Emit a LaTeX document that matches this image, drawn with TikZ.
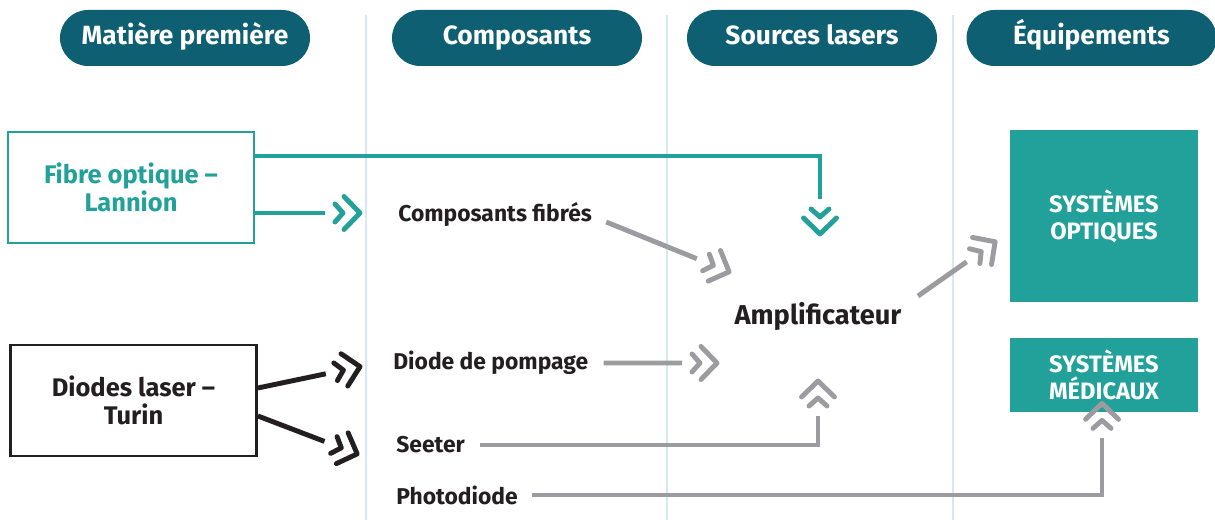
\documentclass[tikz,border=0pt]{standalone}
\usepackage{fontspec}
\setmainfont{Fira Sans}
\usepackage{tikz}
\usetikzlibrary{decorations.markings}
\definecolor{mdark}{RGB}{14,95,114}
\definecolor{mteal}{RGB}{34,161,154}
\definecolor{mgrey}{RGB}{155,155,160}
\definecolor{mblack}{RGB}{35,31,32}
\definecolor{mline}{RGB}{213,233,239}
\tikzset{chev/.style = {shorten >=0.76cm,
                        decoration={markings,
                                    mark=at position 1 with {
                                      \draw [shorten >=0pt, line cap=round, line join=round]
                                        (-0.38, 0.33) -- (-0.06, 0) -- (-0.38, -0.33);
                                      \draw [shorten >=0pt, line cap=round, line join=round]
                                        (-0.56, 0.18) -- (-0.4, 0) -- (-0.56, -0.18);}},
                        postaction={decorate}}}
\tikzset{pill/.style = {fill=mdark, text=white, rounded corners=0.56cm,
                        minimum width=5cm, minimum height=1.12cm,
                        text height=11pt, text depth=3.5pt,
                        font=\bfseries\fontsize{15}{17}\selectfont}}
\tikzset{vline/.style = {mline, line width=0.6pt}}
\tikzset{lbl/.style = {text=mblack, inner sep=0,
                       font=\bfseries\fontsize{13}{15}\selectfont}}
\tikzset{srcbox/.style = {draw, line width=1.6pt, minimum width=4.92cm,
                          minimum height=2.22cm, align=center,
                          font=\bfseries\fontsize{14.5}{16}\selectfont}}
\tikzset{eqbox/.style = {fill=mteal, text=white, minimum width=3.76cm,
                         align=center, font=\bfseries\fontsize{13.5}{15.3}\selectfont}}
\tikzset{link/.style = {line width=2.8pt, chev}}

\begin{document}
\begin{tikzpicture}
      \useasboundingbox (0, 0) rectangle (24.3, 10.4);
      \draw [vline] (7.32, 0) -- (7.32, 10.1);
      \draw [vline] (13.34, 0) -- (13.34, 10.1);
      \draw [vline] (19.06, 0) -- (19.06, 10.1);
      % en-tetes
      \node [pill] (hmat) at (3.7, 9.64) {Matière première};
      \node [pill] (hcomp) at (10.34, 9.64) {Composants};
      \node [pill] (hsrc) at (16.24, 9.64) {Sources lasers};
      \node [pill] (hequip) at (21.83, 9.64) {Équipements};
      % noeuds
      \node [srcbox, mteal] (fibre) at (2.62, 6.65) {Fibre optique –\\Lannion};
      \node [srcbox, mblack] (diodes) at (2.67, 2.39) {Diodes laser –\\Turin};
      \node [lbl, anchor=west] (compf) at (7.96, 6.1) {Composants fibrés};
      \node [lbl, anchor=west] (diode) at (7.86, 3.14) {Diode de pompage};
      \node [lbl, anchor=west] (seeter) at (7.92, 1.5) {Seeter};
      \node [lbl, anchor=west] (photo) at (7.92, 0.5) {Photodiode};
      \node [lbl, font=\bfseries\fontsize{15.5}{17}\selectfont] (ampli) at (16.36, 4.08) {Amplificateur};
      \node [eqbox, minimum height=3.44cm] (sysopt) at (22.08, 6.08) {SYSTÈMES\\OPTIQUES};
      \node [eqbox, minimum height=1.48cm] (sysmed) at (22.08, 2.9) {SYSTÈMES\\MÉDICAUX};
      % liens
      \draw [link, mteal] ([yshift=0.63cm]fibre.east) -| ([shift={(0.04, 1.58)}]ampli.center);
      \draw [link, mteal] ([yshift=-0.51cm]fibre.east) -- ([shift={(-0.7, 0.04)}]compf.west);
      \draw [link, mblack] ([yshift=0.25cm]diodes.east) -- ([shift={(-0.6, -0.06)}]diode.west);
      \draw [link, mblack] ([yshift=-0.31cm]diodes.east) -- ([shift={(-0.72, -0.2)}]seeter.west);
      \draw [link, mgrey] ([shift={(0.28, -0.14)}]compf.east) -- ([shift={(-1.72, 0.86)}]ampli.center);
      \draw [link, mgrey] ([xshift=0.3cm]diode.east) -- ([shift={(-1.96, -0.94)}]ampli.center);
      \draw [link, mgrey] ([xshift=0.3cm]seeter.east) -| ([shift={(0, -1.24)}]ampli.center);
      \draw [link, mgrey] ([shift={(2.0, 0.4)}]ampli.center) -- ([shift={(-0.24, -0.48)}]sysopt.west);
      \draw [link, mgrey] ([xshift=0.28cm]photo.east) -| ([shift={(-0.04, 0.24)}]sysmed.south);
    \end{tikzpicture}
\end{document}
